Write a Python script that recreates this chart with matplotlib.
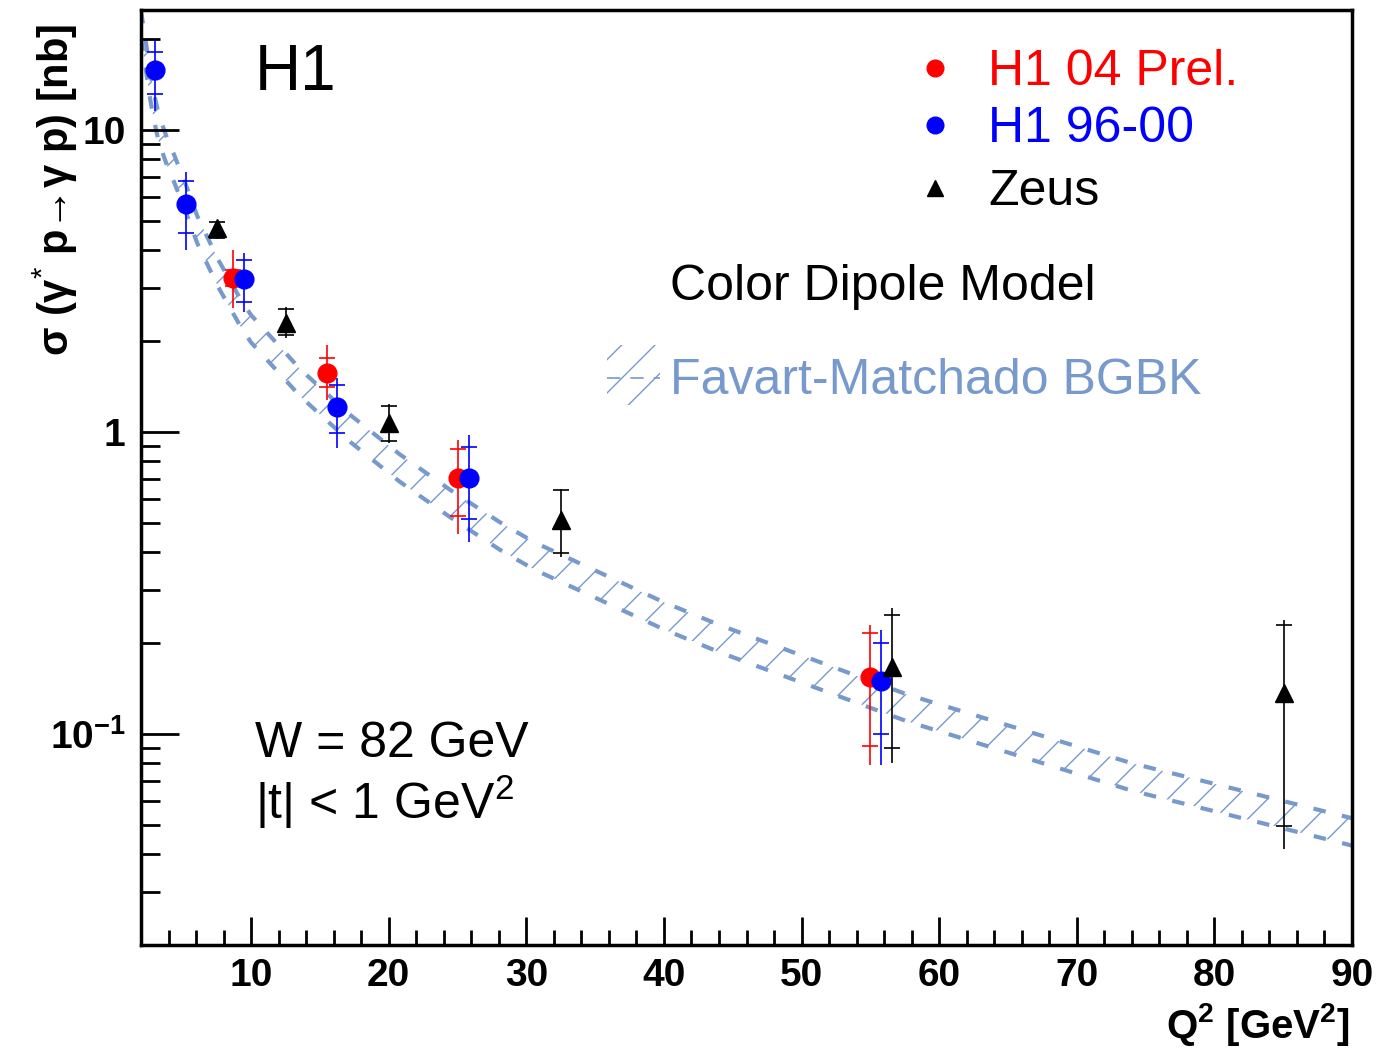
import matplotlib
matplotlib.use("Agg")
import matplotlib.pyplot as plt
from matplotlib.patches import Rectangle
from matplotlib.ticker import FixedLocator, FixedFormatter, MultipleLocator, NullFormatter
import numpy as np

plt.rcParams['font.family'] = ['Liberation Sans', 'DejaVu Sans']
plt.rcParams['mathtext.fontset'] = 'custom'
plt.rcParams['mathtext.rm'] = 'Liberation Sans'
plt.rcParams['mathtext.bf'] = 'Liberation Sans:bold'
plt.rcParams['mathtext.it'] = 'Liberation Sans:italic'
plt.rcParams['hatch.linewidth'] = 1.0

# H1 04 preliminary
h104_q2 = [8.7, 15.5, 25.05, 54.95]
h104_y = [3.25, 1.57, 0.705, 0.155]
h104_tot_hi = [4.0, 1.94, 0.94, 0.230]
h104_tot_lo = [2.58, 1.28, 0.46, 0.079]
h104_stat_hi = [3.45, 1.76, 0.88, 0.216]
h104_stat_lo = [3.05, 1.41, 0.527, 0.0912]

# H1 96-00
h196_q2 = [3.0, 5.27, 9.5, 16.25, 25.8, 55.8]
h196_y = [15.8, 5.69, 3.21, 1.21, 0.705, 0.150]
h196_tot_hi = [19.9, 7.26, 3.92, 1.51, 0.977, 0.221]
h196_tot_lo = [11.6, 4.01, 2.49, 0.885, 0.432, 0.079]
h196_stat_hi = [18.1, 6.78, 3.71, 1.43, 0.89, 0.200]
h196_stat_lo = [13.2, 4.56, 2.69, 0.99, 0.515, 0.100]

# Zeus
zeus_q2 = [7.5, 12.55, 20.0, 32.55, 56.6, 85.05]
zeus_y = [4.73, 2.30, 1.07, 0.511, 0.167, 0.137]
zeus_tot_hi = [5.0, 2.59, 1.24, 0.65, 0.261, 0.238]
zeus_tot_lo = [4.35, 2.05, 0.92, 0.386, 0.080, 0.0416]
zeus_stat_hi = [4.95, 2.55, 1.22, 0.643, 0.248, 0.230]
zeus_stat_lo = [4.40, 2.09, 0.933, 0.397, 0.090, 0.0496]

# Colour dipole model band (Favart-Matchado BGBK)
band_q2 = [2.0, 2.35, 2.7, 3.0, 3.3, 3.9, 4.4, 5.3, 6.1, 7.6, 9.3, 10.0, 13.6,
           17.2, 20.8, 24.5, 28.1, 30.6, 40.0, 44.1, 57.7, 74.0, 90.0]
band_hi = [24.8, 19.6, 15.3, 12.9, 11.2, 9.39, 8.30, 6.52, 5.18, 3.73, 2.72, 2.44, 1.61,
           1.14, 0.844, 0.642, 0.502, 0.431, 0.273, 0.229, 0.135, 0.080, 0.0526]
band_lo = [20.1, 15.9, 12.4, 10.5, 9.10, 7.62, 6.74, 5.29, 4.21, 3.03, 2.21, 1.98, 1.31,
           0.928, 0.685, 0.521, 0.407, 0.350, 0.222, 0.186, 0.110, 0.0649, 0.0427]

y_ticks = [0.1, 1, 10]
y_ticklabels = [r'10$^{\mathbf{-1}}$', '1', '10']

BAND_COLOR = '#7799cc'

fig = plt.figure(figsize=(13.77, 10.49), dpi=100)
ax = fig.add_axes([141 / 1377, 1 - 945 / 1049, 1211 / 1377, 935 / 1049])

ax.fill_between(band_q2, band_lo, band_hi, facecolor='none', edgecolor=BAND_COLOR,
                hatch='/', linewidth=0, zorder=1)
ax.plot(band_q2, band_hi, color=BAND_COLOR, lw=3, ls=(0, (3, 4)), zorder=1)
ax.plot(band_q2, band_lo, color=BAND_COLOR, lw=3, ls=(0, (3, 4)), zorder=1)


def draw_points(q2, y, tot_lo, tot_hi, st_lo, st_hi, color, marker, ms, z):
    q2 = np.array(q2)
    y = np.array(y)
    yerr = [y - np.array(tot_lo), np.array(tot_hi) - y]
    ax.errorbar(q2, y, yerr=yerr, fmt='none', ecolor=color, elinewidth=1.2, capsize=0, zorder=z)
    ax.plot(q2, st_lo, ls='none', marker='_', ms=11, mew=1.2, color=color, zorder=z)
    ax.plot(q2, st_hi, ls='none', marker='_', ms=11, mew=1.2, color=color, zorder=z)
    ax.plot(q2, y, ls='none', marker=marker, ms=ms, color=color, mec=color, zorder=z + 0.5)


draw_points(h104_q2, h104_y, h104_tot_lo, h104_tot_hi, h104_stat_lo, h104_stat_hi,
            'red', 'o', 13.5, 3)
draw_points(h196_q2, h196_y, h196_tot_lo, h196_tot_hi, h196_stat_lo, h196_stat_hi,
            'blue', 'o', 13.5, 4)
draw_points(zeus_q2, zeus_y, zeus_tot_lo, zeus_tot_hi, zeus_stat_lo, zeus_stat_hi,
            'black', '^', 13, 5)

ax.set_xlim(2, 90)
ax.set_yscale('log')
ax.set_ylim(0.02, 25)

ax.xaxis.set_major_locator(MultipleLocator(10))
ax.xaxis.set_minor_locator(MultipleLocator(2))
ax.yaxis.set_major_locator(FixedLocator(y_ticks))
ax.yaxis.set_major_formatter(FixedFormatter(y_ticklabels))
ax.yaxis.set_minor_locator(FixedLocator([m * d for d in [0.01, 0.1, 1, 10] for m in range(2, 10)]))
ax.yaxis.set_minor_formatter(NullFormatter())

ax.tick_params(axis='x', which='major', direction='in', length=20, width=2, pad=9, labelsize=28)
ax.tick_params(axis='x', which='minor', direction='in', length=11, width=2)
ax.tick_params(axis='y', which='major', direction='in', length=27, width=2, pad=11, labelsize=28)
ax.tick_params(axis='y', which='minor', direction='in', length=14, width=2)
for lab in ax.get_xticklabels() + ax.get_yticklabels():
    lab.set_fontweight('bold')
for s in ax.spines.values():
    s.set_linewidth(2.5)

fig.text(1350 / 1377, 1 - 1025 / 1049, r'Q$^{\mathbf{2}}$ [GeV$^{\mathbf{2}}$]',
         ha='right', va='center', fontsize=29, fontweight='bold')
fig.text(55 / 1377, 1 - 190 / 1049, '\u03c3 (\u03b3$^{*}$ p\u2192\u03b3 p) [nb]',
         rotation=90, ha='center', va='center', fontsize=30, fontweight='bold')

ax.text(0.0941, 0.9326, 'H1', transform=ax.transAxes, fontsize=46, va='center', ha='left')

legend_rows = [('H1 04 Prel.', 'red', 'o', 12, 0.934),
               ('H1 96-00', 'blue', 'o', 12, 0.873),
               ('Zeus', 'black', '^', 11, 0.8055)]
for label, color, marker, ms, fy in legend_rows:
    ax.plot([0.6557], [fy + 0.004], marker=marker, ms=ms, color=color, transform=ax.transAxes,
            clip_on=False, ls='none')
    ax.text(0.6994, fy, label, color=color, transform=ax.transAxes, fontsize=36,
            va='center', ha='left')

ax.text(0.4368, 0.7035, 'Color Dipole Model', transform=ax.transAxes, fontsize=36,
        va='center', ha='left')
ax.add_patch(Rectangle((0.385, 0.5775), 0.0436, 0.0642, transform=ax.transAxes,
                       facecolor='none', edgecolor=BAND_COLOR, hatch='/', linewidth=0))
ax.plot([0.385, 0.4286], [0.606, 0.606], transform=ax.transAxes, color=BAND_COLOR,
        lw=1.2, ls=(0, (8, 6)))
ax.text(0.4368, 0.6035, 'Favart-Matchado BGBK', transform=ax.transAxes, fontsize=36,
        va='center', ha='left', color=BAND_COLOR)

ax.text(0.0941, 0.2150, 'W = 82 GeV', transform=ax.transAxes, fontsize=36, va='center', ha='left')
ax.text(0.0941, 0.1530, '|t| < 1 GeV$^{2}$', transform=ax.transAxes, fontsize=36,
        va='center', ha='left')

fig.savefig('out.png', dpi=100)
